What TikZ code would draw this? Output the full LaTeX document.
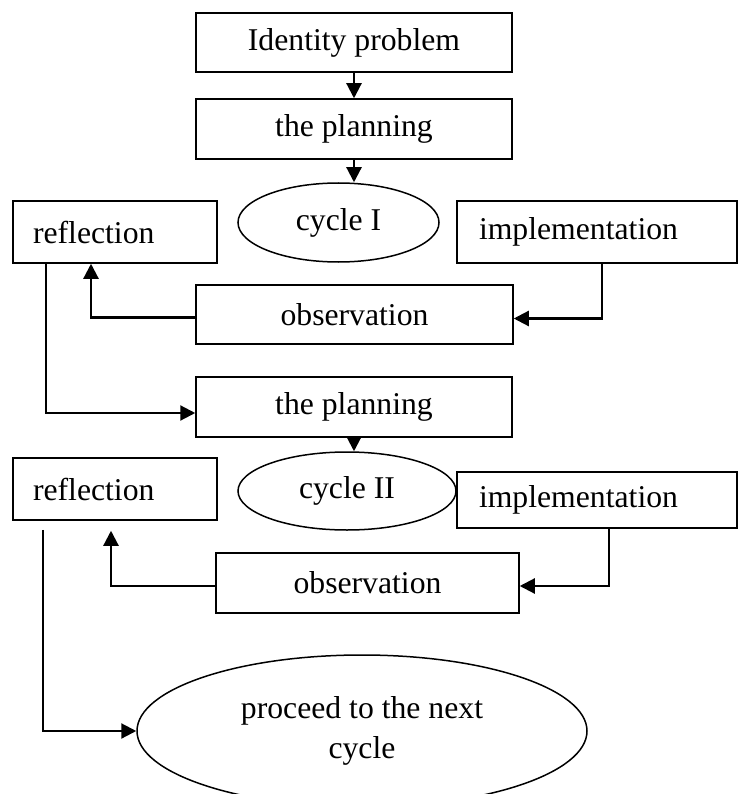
\documentclass[tikz,border=0pt]{standalone}
\usepackage{fontspec}
\setmainfont{Liberation Serif}
\usetikzlibrary{arrows.meta,shapes.geometric}
\begin{document}
\begin{tikzpicture}[x=1pt,y=-1pt,>={Triangle[length=15pt,width=15pt]},
    font=\fontsize{31.7}{40}\selectfont,
    box/.style={draw,line width=1.5pt,inner sep=0pt},
    lbox/.style={box,align=left,inner xsep=20pt},
    oval/.style={draw,ellipse,line width=1.5pt,inner sep=0pt},
    arr/.style={->,line width=2.2pt}]
    \useasboundingbox (0,0) rectangle (744,794);
    % cycle I
    \node[box,minimum width=316pt,minimum height=59pt] (idp) at (354,42.5) {Identity problem};
    \node[box,minimum width=316pt,minimum height=60pt] (plan1) at (354,129) {the planning};
    \node[oval,minimum width=201pt,minimum height=79pt] (cyc1) at (338.5,222.5) {cycle I\hspace{26pt}};
    \node[lbox,text width=164pt,minimum height=62pt] (ref1) at (115,232) {reflection};
    \node[lbox,inner xsep=22pt,text width=236pt,minimum height=62pt] (imp1) at (597,232) {implementation};
    \node[box,minimum width=317pt,minimum height=59pt] (obs1) at (354.5,314.5) {observation};
    % cycle II
    \node[box,minimum width=316pt,minimum height=60pt] (plan2) at (354,407) {the planning};
    \node[oval,minimum width=218pt,minimum height=78pt] (cyc2) at (347,491) {cycle II\hspace{26pt}};
    \node[lbox,text width=164pt,minimum height=62pt] (ref2) at (115,489) {reflection};
    \node[lbox,inner xsep=22pt,text width=236pt,minimum height=56pt] (imp2) at (597,500) {implementation};
    \node[box,minimum width=303pt,minimum height=60pt] (obs2) at (367.5,583) {observation};
    \node[oval,align=center,minimum width=450pt,minimum height=152pt] (nxt) at (362,731) {proceed to the next\\cycle};
    % connectors
    \draw[arr] (idp.south) -- (plan1.north);
    \draw[arr] (plan1.south) -- (cyc1.north -| plan1.south);
    \draw[arr] ([yshift=-3pt]obs1.west) -| ([xshift=-24pt]ref1.south);
    \draw[arr] ([xshift=5pt]imp1.south) |- ([yshift=-4pt]obs1.east);
    \draw[arr] ([xshift=-69pt]ref1.south) |- ([yshift=-6pt]plan2.west);
    \draw[arr] (plan2.south) -- (cyc2.north -| plan2.south);
    \draw[arr] ([yshift=-3pt]obs2.west) -| ([xshift=-4pt,yshift=-10pt]ref2.south);
    \draw[arr] ([xshift=12pt]imp2.south) |- ([yshift=-3pt]obs2.east);
    \draw[arr] ([xshift=-72pt,yshift=-9pt]ref2.south) |- (nxt.west);
\end{tikzpicture}
\end{document}
